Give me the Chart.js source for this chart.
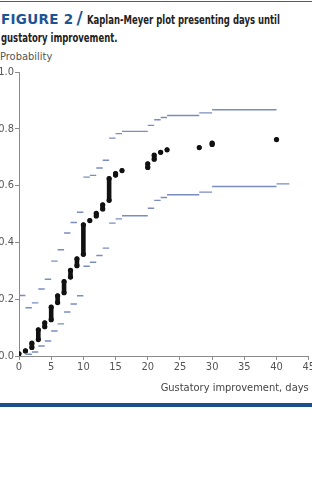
<!DOCTYPE html>
<html>
<head>
<meta charset="utf-8">
<script src="https://cdn.jsdelivr.net/npm/chart.js@4"></script>
<style>
  html, body { margin: 0; padding: 0; background: #fff; }
  body { width: 312px; height: 480px; overflow: hidden; position: relative; }
  #topRule { position: absolute; left: 0; top: 1px; width: 312px; height: 1px; background: #40608c; }
  .tl { position: absolute; left: 1px; white-space: nowrap; color: #222; line-height: 20px;
    font-family: "Liberation Sans Narrow", "DejaVu Sans Condensed", sans-serif; font-weight: bold; font-size: 11.5px; }
  .tl .sq { display: inline-block; transform: scaleX(0.82); transform-origin: left center; }
  .fig { font-family: "DejaVu Sans", sans-serif; font-size: 13.5px; color: #1d5594; letter-spacing: 0.3px; }
  .slash { font-family: "DejaVu Sans", sans-serif; font-size: 17px; color: #1d5594; margin: 0 4px 0 3px; }
  #ylab { position: absolute; left: 0; top: 50px; font-family: "Liberation Sans Narrow", "DejaVu Sans Condensed", sans-serif;
    font-size: 11px; color: #555; }
  #wrap { position: absolute; left: 0; top: 50px; width: 316px; height: 345px; }
  #bottomRule { position: absolute; left: 0; top: 403px; width: 312px; height: 4px; background: #1b4f8b; }
</style>
</head>
<body>
<div id="topRule"></div>
<div class="tl" style="top:8px"><span class="fig">FIGURE 2</span><span class="slash">/</span><span class="sq">Kaplan-Meyer plot presenting days until</span></div>
<div class="tl" style="top:28px"><span class="sq">gustatory improvement.</span></div>
<div id="ylab">Probability</div>
<div id="wrap"><canvas id="km"></canvas></div>
<div id="bottomRule"></div>
<script>
// Kaplan-Meier estimate: each day's column of dots runs from kmFrom to kmTo
const kmDays = [0, 1, 2, 3, 4, 5, 6, 7, 8, 9, 10, 11, 12, 13, 14, 15, 16, 20, 21, 22, 23, 28, 30, 40];
const kmFrom = [0.008, 0.018, 0.03, 0.058, 0.103, 0.128, 0.188, 0.223, 0.278, 0.318, 0.358, 0.477, 0.493, 0.518, 0.548, 0.637, 0.653, 0.664, 0.693, 0.717, 0.726, 0.734, 0.745, 0.762];
const kmTo   = [0.008, 0.018, 0.045, 0.092, 0.117, 0.172, 0.212, 0.262, 0.302, 0.342, 0.462, 0.477, 0.502, 0.532, 0.625, 0.642, 0.653, 0.677, 0.707, 0.717, 0.726, 0.734, 0.75, 0.762];

// confidence band steps: value i holds from times[i] to times[i+1]
const upperTimes = [0, 1, 2, 3, 4, 5, 6, 7, 8, 9, 10, 11, 12, 13, 14, 15, 16, 20, 21, 22, 23, 28, 30, 40];
const upperVals  = [0.213, 0.17, 0.187, 0.236, 0.27, 0.334, 0.374, 0.433, 0.47, 0.506, 0.63, 0.636, 0.662, 0.689, 0.767, 0.783, 0.791, 0.812, 0.832, 0.84, 0.847, 0.856, 0.867];
const lowerTimes = [1, 2, 3, 4, 5, 6, 7, 8, 9, 10, 11, 12, 13, 14, 15, 16, 20, 21, 22, 23, 28, 30, 40, 42];
const lowerVals  = [0.006, 0.014, 0.035, 0.053, 0.088, 0.113, 0.155, 0.183, 0.212, 0.316, 0.33, 0.354, 0.38, 0.468, 0.483, 0.494, 0.52, 0.548, 0.558, 0.568, 0.577, 0.597, 0.606];

const xTicks = [0, 5, 10, 15, 20, 25, 30, 35, 40, 45];
const yTicks = [0, 0.2, 0.4, 0.6, 0.8, 1.0];

function steps(times, vals) {
  const out = [];
  vals.forEach((v, i) => {
    out.push({ x: times[i], y: v }, { x: times[i + 1], y: v }, { x: times[i + 1], y: null });
  });
  return out;
}

const kmData = [];
kmDays.forEach((d, i) => {
  kmData.push({ x: d, y: kmFrom[i] });
  if (kmTo[i] !== kmFrom[i]) kmData.push({ x: d, y: kmTo[i] });
  kmData.push({ x: d, y: null });
});

const font = { family: "'Liberation Sans Narrow', 'DejaVu Sans Condensed', sans-serif", size: 11 };
const axisGrey = "#8a8a8a";

new Chart(document.getElementById("km"), {
  type: "line",
  data: {
    datasets: [
      { data: steps(upperTimes, upperVals), borderColor: "#7b8cc0", borderWidth: 1.4, pointRadius: 0, spanGaps: false },
      { data: steps(lowerTimes, lowerVals), borderColor: "#7b8cc0", borderWidth: 1.4, pointRadius: 0, spanGaps: false },
      { data: kmData, borderColor: "#111", borderWidth: 4.6, borderCapStyle: "round", pointRadius: 2.6,
        pointBackgroundColor: "#111", pointBorderWidth: 0, spanGaps: false }
    ]
  },
  options: {
    responsive: true,
    maintainAspectRatio: false,
    animation: false,
    layout: { padding: { top: 22, right: 0, left: 0, bottom: 0 } },
    plugins: { legend: { display: false }, tooltip: { enabled: false } },
    scales: {
      x: {
        type: "linear", min: 0, max: 45,
        afterBuildTicks: s => { s.ticks = xTicks.map(v => ({ value: v })); },
        afterFit: s => { s.height = 39; },
        border: { color: axisGrey, width: 1 },
        grid: { drawOnChartArea: false, drawTicks: true, tickLength: 4, color: axisGrey },
        ticks: { font, color: "#555", padding: 1, maxRotation: 0 },
        title: { display: true, text: "Gustatory improvement, days", align: "end", font, color: "#444", padding: { top: 2, bottom: 0 } }
      },
      y: {
        min: 0, max: 1,
        afterBuildTicks: s => { s.ticks = yTicks.map(v => ({ value: v })); },
        afterFit: s => { s.width = 19; },
        border: { color: axisGrey, width: 1 },
        grid: { drawOnChartArea: false, drawTicks: true, tickLength: 4, color: axisGrey },
        ticks: { font, color: "#555", padding: 1, callback: v => v.toFixed(1) }
      }
    }
  }
});
</script>
</body>
</html>
